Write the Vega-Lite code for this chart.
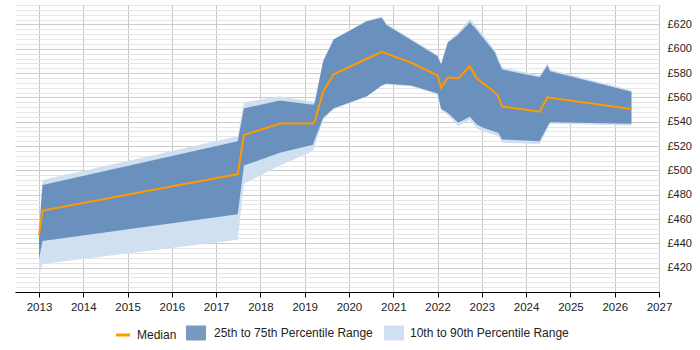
{
  "$schema": "https://vega.github.io/schema/vega-lite/v6.json",
  "width": 644,
  "height": 287,
  "autosize": {"type": "none"},
  "padding": {"left": 15, "top": 5, "right": 41, "bottom": 58},
  "background": "white",
  "config": {"view": {"stroke": null}, "font": "Liberation Sans"},
  "data": {"values": [
    {"date": "2013-01-01", "p10": 413, "p25": 427, "median": 447, "p75": 449, "p90": 451},
    {"date": "2013-01-30", "p10": 423, "p25": 442, "median": 467, "p75": 488, "p90": 492},
    {"date": "2017-06-28", "p10": 443, "p25": 464, "median": 497, "p75": 524, "p90": 528},
    {"date": "2017-08-18", "p10": 489, "p25": 504, "median": 529, "p75": 551, "p90": 556},
    {"date": "2018-06-10", "p10": 504, "p25": 514.5, "median": 538.6, "p75": 557.5, "p90": 561},
    {"date": "2019-03-11", "p10": 516, "p25": 521, "median": 538.6, "p75": 554, "p90": 556.5},
    {"date": "2019-03-25", "p10": 520, "p25": 525.4, "median": 540.2, "p75": 555.5, "p90": 557.5},
    {"date": "2019-06-03", "p10": 542, "p25": 543.2, "median": 565, "p75": 590, "p90": 590.5},
    {"date": "2019-08-28", "p10": 550, "p25": 551, "median": 579, "p75": 607.6, "p90": 608.2},
    {"date": "2020-05-27", "p10": 560.5, "p25": 561, "median": 591.8, "p75": 622.7, "p90": 623.3},
    {"date": "2020-09-27", "p10": 569.3, "p25": 569.8, "median": 597.5, "p75": 625.5, "p90": 626.5},
    {"date": "2020-11-06", "p10": 570.6, "p25": 571.2, "median": 596, "p75": 619.5, "p90": 620.5},
    {"date": "2021-05-30", "p10": 569, "p25": 569.8, "median": 588.5, "p75": 607, "p90": 608},
    {"date": "2022-01-01", "p10": 562.5, "p25": 563.2, "median": 578, "p75": 593.9, "p90": 595},
    {"date": "2022-01-30", "p10": 549.5, "p25": 550.6, "median": 567.9, "p75": 587.1, "p90": 588},
    {"date": "2022-03-26", "p10": 545.5, "p25": 547.4, "median": 576.4, "p75": 604.9, "p90": 606.3},
    {"date": "2022-06-21", "p10": 536.4, "p25": 539.1, "median": 575.8, "p75": 611.7, "p90": 613.5},
    {"date": "2022-09-24", "p10": 541.2, "p25": 544.1, "median": 585.7, "p75": 621.9, "p90": 624.6},
    {"date": "2022-11-21", "p10": 534.5, "p25": 537.7, "median": 575.6, "p75": 615.5, "p90": 618},
    {"date": "2023-01-11", "p10": 532, "p25": 535, "median": 571.8, "p75": 609, "p90": 611.5},
    {"date": "2023-04-20", "p10": 529, "p25": 531.8, "median": 563.8, "p75": 596.7, "p90": 598.8},
    {"date": "2023-05-16", "p10": 528, "p25": 531, "median": 561, "p75": 590, "p90": 592},
    {"date": "2023-06-18", "p10": 522.7, "p25": 525.4, "median": 552.5, "p75": 583, "p90": 584.8},
    {"date": "2024-04-22", "p10": 521.7, "p25": 524, "median": 548.2, "p75": 576.5, "p90": 578},
    {"date": "2024-06-25", "p10": 534, "p25": 536, "median": 560.2, "p75": 586.3, "p90": 588},
    {"date": "2024-07-17", "p10": 538.3, "p25": 539.6, "median": 559.8, "p75": 581.6, "p90": 583},
    {"date": "2026-05-19", "p10": 536.9, "p25": 538.3, "median": 550.5, "p75": 564.6, "p90": 566}
  ]},
  "encoding": {
    "x": {
      "field": "date",
      "type": "temporal",
      "scale": {"type": "utc", "domain": [{"year": 2012, "month": 6, "date": 17, "utc": true}, {"year": 2027, "month": 1, "date": 1, "utc": true}]},
      "axis": {
        "title": null,
        "values": [
          {"year": 2013, "month": 1, "date": 1, "utc": true},
          {"year": 2014, "month": 1, "date": 1, "utc": true},
          {"year": 2015, "month": 1, "date": 1, "utc": true},
          {"year": 2016, "month": 1, "date": 1, "utc": true},
          {"year": 2017, "month": 1, "date": 1, "utc": true},
          {"year": 2018, "month": 1, "date": 1, "utc": true},
          {"year": 2019, "month": 1, "date": 1, "utc": true},
          {"year": 2020, "month": 1, "date": 1, "utc": true},
          {"year": 2021, "month": 1, "date": 1, "utc": true},
          {"year": 2022, "month": 1, "date": 1, "utc": true},
          {"year": 2023, "month": 1, "date": 1, "utc": true},
          {"year": 2024, "month": 1, "date": 1, "utc": true},
          {"year": 2025, "month": 1, "date": 1, "utc": true},
          {"year": 2026, "month": 1, "date": 1, "utc": true},
          {"year": 2027, "month": 1, "date": 1, "utc": true}
        ],
        "tickCount": 1000,
        "labelExpr": "utcFormat(datum.value, '%Y')",
        "labelFlush": false,
        "labelOverlap": false,
        "grid": true,
        "gridColor": "#c8c8c8",
        "gridWidth": 1,
        "domainColor": "#000000",
        "tickColor": "#000000",
        "tickSize": 5,
        "labelColor": "#222222",
        "labelFontSize": 11.5,
        "labelPadding": 4
      }
    }
  },
  "layer": [
    {
      "mark": {"type": "area", "interpolate": "linear"},
      "encoding": {
        "y": {
          "field": "p10",
          "type": "quantitative",
          "scale": {"domain": [400, 636], "nice": false, "zero": false},
          "axis": {
            "orient": "right",
            "title": null,
            "values": [400,404,408,412,416,420,424,428,432,436,440,444,448,452,456,460,464,468,472,476,480,484,488,492,496,500,504,508,512,516,520,524,528,532,536,540,544,548,552,556,560,564,568,572,576,580,584,588,592,596,600,604,608,612,616,620,624,628,632,636],
            "tickCount": 1000,
            "labelExpr": "datum.value % 20 === 0 && datum.value > 400 ? '£' + datum.value : ''",
            "grid": true,
            "gridColor": {"condition": {"test": "datum.value % 20 === 0", "value": "#cccccc"}, "value": "#e6e6e6"},
            "domain": false,
            "ticks": false,
            "labelPadding": 8,
            "labelFontSize": 11,
            "labelColor": "#222222",
            "labelOverlap": false
          }
        },
        "y2": {"field": "p90"},
        "fill": {
          "datum": "10th to 90th Percentile Range",
          "scale": {"domain": ["10th to 90th Percentile Range"], "range": ["#d0e0f0"]},
          "legend": {
            "orient": "none",
            "legendX": 369,
            "legendY": 318,
            "direction": "horizontal",
            "title": null,
            "symbolType": "M-1,-0.75H1V0.75H-1Z",
            "symbolSize": 400,
            "symbolStrokeWidth": 0,
            "labelFontSize": 12,
            "labelColor": "#222222",
            "labelOffset": 6,
            "padding": 0
          }
        }
      }
    },
    {
      "mark": {"type": "area", "interpolate": "linear", "opacity": 0.7},
      "encoding": {
        "y": {"field": "p25", "type": "quantitative"},
        "y2": {"field": "p75"},
        "color": {
          "datum": "25th to 75th Percentile Range",
          "scale": {"domain": ["25th to 75th Percentile Range"], "range": ["#3f6fa6"]},
          "legend": {
            "orient": "none",
            "legendX": 171,
            "legendY": 318,
            "direction": "horizontal",
            "title": null,
            "symbolType": "M-1,-0.75H1V0.75H-1Z",
            "symbolSize": 400,
            "symbolStrokeWidth": 0,
            "labelFontSize": 12,
            "labelColor": "#222222",
            "labelOffset": 8,
            "padding": 0
          }
        }
      }
    },
    {
      "mark": {"type": "line", "interpolate": "linear", "strokeWidth": 2},
      "encoding": {
        "y": {"field": "median", "type": "quantitative"},
        "stroke": {
          "datum": "Median",
          "scale": {"domain": ["Median"], "range": ["#ff9900"]},
          "legend": {
            "orient": "none",
            "legendX": 99,
            "legendY": 321,
            "direction": "horizontal",
            "title": null,
            "symbolType": "stroke",
            "symbolSize": 200,
            "symbolStrokeWidth": 3,
            "labelFontSize": 12,
            "labelColor": "#222222",
            "labelOffset": 5,
            "padding": 0
          }
        }
      }
    }
  ]
}
